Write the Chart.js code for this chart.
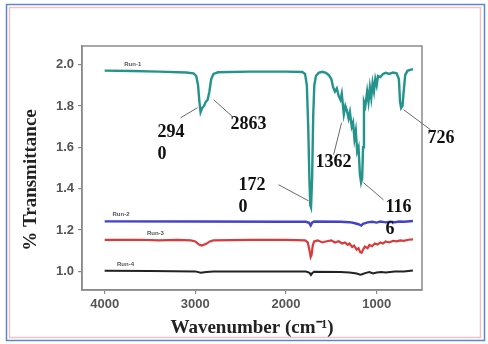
<!DOCTYPE html>
<html>
<head>
<meta charset="utf-8">
<script src="https://cdn.jsdelivr.net/npm/chart.js@4.4.1/dist/chart.umd.min.js"></script>
<style>
  html, body { margin: 0; padding: 0; background: #fff; }
  canvas { display: block; }
</style>
</head>
<body>
<canvas id="ftir" width="488" height="344"></canvas>
<script>
// ---- data -------------------------------------------------------------
const xTicks = [4000, 3000, 2000, 1000];
const yTicks = [1.0, 1.2, 1.4, 1.6, 1.8, 2.0];
const seriesNames = ['Run-1', 'Run-2', 'Run-3', 'Run-4'];

const run1Wn = [4000, 3700, 3400, 3100, 3020, 2990, 2970, 2955, 2942, 2925, 2905, 2885, 2864, 2845, 2825, 2800, 2750, 2400, 2000, 1820, 1790, 1770, 1755, 1742, 1732, 1724, 1712, 1700, 1688, 1670, 1640, 1600, 1560, 1530, 1500, 1480, 1460, 1440, 1420, 1400, 1385, 1362, 1345, 1330, 1310, 1295, 1275, 1260, 1245, 1230, 1215, 1200, 1185, 1172, 1160, 1150, 1140, 1125, 1105, 1090, 1075, 1060, 1045, 1030, 1015, 1000, 985, 960, 930, 900, 860, 820, 780, 755, 742, 730, 715, 700, 685, 660, 630, 600];
const run1T  = [1.971, 1.969, 1.966, 1.962, 1.958, 1.945, 1.90, 1.82, 1.77, 1.79, 1.80, 1.82, 1.83, 1.87, 1.93, 1.955, 1.963, 1.966, 1.966, 1.964, 1.955, 1.90, 1.70, 1.45, 1.32, 1.31, 1.45, 1.75, 1.90, 1.945, 1.96, 1.965, 1.96, 1.95, 1.93, 1.89, 1.87, 1.885, 1.85, 1.83, 1.86, 1.76, 1.80, 1.78, 1.74, 1.77, 1.70, 1.72, 1.64, 1.68, 1.58, 1.60, 1.47, 1.43, 1.45, 1.60, 1.82, 1.80, 1.87, 1.82, 1.89, 1.84, 1.91, 1.87, 1.93, 1.90, 1.945, 1.94, 1.955, 1.96, 1.955, 1.962, 1.958, 1.93, 1.82, 1.79, 1.80, 1.88, 1.95, 1.97, 1.975, 1.978];

const run2Wn = [4000, 3000, 2000, 1780, 1745, 1728, 1712, 1690, 1400, 1300, 1250, 1200, 1170, 1150, 1100, 1050, 1000, 960, 900, 850, 800, 750, 700, 600];
const run2T  = [1.242, 1.241, 1.240, 1.240, 1.235, 1.222, 1.236, 1.241, 1.240, 1.238, 1.234, 1.228, 1.222, 1.230, 1.237, 1.240, 1.236, 1.241, 1.237, 1.240, 1.238, 1.241, 1.240, 1.244];

const run3Wn = [4000, 3600, 3400, 3200, 3050, 3000, 2960, 2930, 2880, 2840, 2800, 2400, 2000, 1790, 1760, 1740, 1728, 1718, 1705, 1690, 1650, 1600, 1550, 1500, 1460, 1420, 1380, 1350, 1320, 1300, 1270, 1250, 1220, 1200, 1180, 1165, 1150, 1130, 1100, 1080, 1050, 1020, 990, 960, 930, 900, 860, 820, 780, 740, 700, 650, 600];
const run3T  = [1.152, 1.153, 1.150, 1.152, 1.150, 1.145, 1.130, 1.125, 1.133, 1.145, 1.150, 1.152, 1.152, 1.150, 1.140, 1.100, 1.070, 1.080, 1.125, 1.145, 1.150, 1.140, 1.146, 1.150, 1.140, 1.146, 1.135, 1.140, 1.128, 1.135, 1.118, 1.125, 1.105, 1.112, 1.092, 1.090, 1.105, 1.120, 1.112, 1.128, 1.122, 1.135, 1.130, 1.140, 1.135, 1.145, 1.140, 1.148, 1.145, 1.150, 1.148, 1.153, 1.155];

const run4Wn = [4000, 3500, 3000, 2940, 2880, 2800, 2000, 1780, 1740, 1725, 1710, 1690, 1400, 1300, 1220, 1180, 1160, 1120, 1080, 1040, 1000, 950, 900, 800, 700, 600];
const run4T  = [1.003, 1.002, 1.000, 0.994, 0.997, 1.000, 1.000, 0.999, 0.993, 0.983, 0.992, 0.998, 0.997, 0.995, 0.990, 0.984, 0.986, 0.993, 0.997, 0.990, 0.995, 0.997, 0.995, 0.999, 1.000, 1.004];

// peak assignments written next to the Run-1 spectrum
const peakTexts = [['294', '0'], ['2863'], ['172', '0'], ['1362'], ['116', '6'], ['726']];

// ---- layout of the annotations (axis units) ----------------------------
const peakLayout = [
  { text: [3416, 1.673], from: [3162, 1.743], to: [2975, 1.792] },
  { text: [2611, 1.709], from: [2589, 1.748], to: [2798, 1.830] },
  { text: [2523, 1.414], from: [2082, 1.419], to: [1751, 1.341] },
  { text: [1674, 1.525], from: [1475, 1.564], to: [1387, 1.719] },
  { text: [902, 1.312],  from: [924, 1.346],  to: [1145, 1.429] },
  { text: [439, 1.642],  from: [406, 1.685],  to: [703, 1.782] }
];
const runLabelWn = [3690, 3820, 3440, 3770];

const colors = ['#23938b', '#4343c4', '#d93a3a', '#222222'];
const widths = [2.4, 2.4, 2.2, 2];

const series = [[run1Wn, run1T], [run2Wn, run2T], [run3Wn, run3T], [run4Wn, run4T]];
const datasets = series.map(([wn, t], i) => ({
  label: seriesNames[i],
  data: wn.map((w, k) => ({ x: w, y: t[k] })),
  borderColor: colors[i],
  borderWidth: widths[i],
  pointRadius: 0,
  tension: 0,
  fill: false
}));

function valueAt(wn, t, w) {
  for (let k = 0; k < wn.length - 1; k++) {
    if ((wn[k] - w) * (wn[k + 1] - w) <= 0) {
      const f = (w - wn[k]) / (wn[k + 1] - wn[k]);
      return t[k] + f * (t[k + 1] - t[k]);
    }
  }
  return t[0];
}

// page frame, plot box, peak labels and run tags
const decorations = {
  id: 'decorations',
  beforeDraw(chart) {
    const ctx = chart.ctx;
    ctx.save();
    ctx.fillStyle = '#fff';
    ctx.fillRect(0, 0, chart.width, chart.height);
    ctx.strokeStyle = '#5b86c8';
    ctx.lineWidth = 1.5;
    ctx.strokeRect(6.5, 4.5, 478, 336);
    ctx.strokeStyle = '#f2c2c2';
    ctx.lineWidth = 1.5;
    ctx.strokeRect(9.5, 7.5, 471, 330);
    ctx.restore();
  },
  beforeDatasetsDraw(chart) {
    const { ctx, chartArea: a } = chart;
    ctx.save();
    ctx.strokeStyle = '#8a8a8a';
    ctx.lineWidth = 1.5;
    ctx.strokeRect(a.left, a.top, a.right - a.left, a.bottom - a.top);
    ctx.restore();
  },
  afterDraw(chart) {
    const { ctx } = chart;
    const xs = chart.scales.x, ys = chart.scales.y;
    const px = p => [xs.getPixelForValue(p[0]), ys.getPixelForValue(p[1])];
    ctx.save();
    // arrows
    ctx.strokeStyle = '#6a6a6a';
    ctx.lineWidth = 1;
    peakLayout.forEach(l => {
      const a = px(l.from), b = px(l.to);
      ctx.beginPath();
      ctx.moveTo(a[0], a[1]);
      ctx.lineTo(b[0], b[1]);
      ctx.stroke();
    });
    // peak numbers
    ctx.fillStyle = '#111';
    ctx.font = 'bold 18px "Liberation Serif", serif';
    ctx.textAlign = 'left';
    ctx.textBaseline = 'middle';
    peakLayout.forEach((l, i) => {
      const p = px(l.text);
      peakTexts[i].forEach((s, j) => ctx.fillText(s, p[0], p[1] + j * 22));
    });
    // run tags just above each trace
    ctx.font = 'bold 6px "Liberation Sans", sans-serif';
    ctx.textAlign = 'center';
    ctx.textBaseline = 'bottom';
    series.forEach(([wn, t], i) => {
      const w = runLabelWn[i];
      ctx.fillStyle = '#555';
      ctx.fillText(seriesNames[i], xs.getPixelForValue(w), ys.getPixelForValue(valueAt(wn, t, w)) - 4);
    });
    // y-axis title
    ctx.translate(31, 180);
    ctx.rotate(-Math.PI / 2);
    ctx.font = 'bold 19px "Liberation Serif", serif';
    ctx.fillStyle = '#222';
    ctx.textAlign = 'center';
    ctx.textBaseline = 'middle';
    ctx.fillText('% Transmittance', 0, 0);
    ctx.restore();
  }
};

new Chart(document.getElementById('ftir'), {
  type: 'line',
  data: { datasets },
  options: {
    responsive: false,
    animation: false,
    devicePixelRatio: 1,
    layout: { padding: { left: 0, top: 46, right: 66, bottom: 0 } },
    plugins: { legend: { display: false }, tooltip: { enabled: false } },
    scales: {
      x: {
        type: 'linear',
        reverse: true,
        min: 500,
        max: 4250,
        afterBuildTicks: s => { s.ticks = xTicks.map(v => ({ value: v })); },
        afterFit: s => { s.height = 54; },
        grid: { drawOnChartArea: false, tickLength: 4, color: '#8a8a8a', lineWidth: 1.2 },
        border: { color: '#8a8a8a', width: 1.5 },
        ticks: {
          color: '#555',
          padding: 3,
          maxRotation: 0,
          callback: v => String(v),
          font: { family: '"Liberation Sans", sans-serif', size: 13, weight: 'bold' }
        },
        title: {
          display: true,
          text: 'Wavenumber (cm⁻¹)',
          color: '#222',
          padding: { top: 0, bottom: 5 },
          font: { family: '"Liberation Serif", serif', size: 19, weight: 'bold' }
        }
      },
      y: {
        type: 'linear',
        min: 0.91,
        max: 2.09,
        afterBuildTicks: s => { s.ticks = yTicks.map(v => ({ value: v })); },
        afterFit: s => { s.width = 82; },
        grid: { drawOnChartArea: false, tickLength: 4, color: '#8a8a8a', lineWidth: 1.2 },
        border: { color: '#8a8a8a', width: 1.5 },
        ticks: {
          color: '#555',
          padding: 4,
          callback: v => v.toFixed(1),
          font: { family: '"Liberation Sans", sans-serif', size: 13, weight: 'bold' }
        }
      }
    }
  },
  plugins: [decorations]
});
</script>
</body>
</html>
